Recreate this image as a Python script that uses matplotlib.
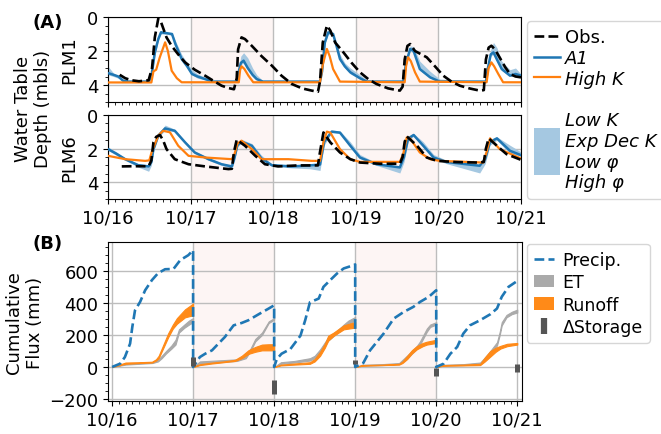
import matplotlib
matplotlib.use("Agg")
import matplotlib.pyplot as plt
from matplotlib.lines import Line2D
from matplotlib.patches import Patch, Rectangle
from matplotlib.legend_handler import HandlerPatch
from matplotlib.ticker import MultipleLocator, FixedLocator

# ---------------- data (x in months since 10/2016) ----------------
year_ticks = [0, 12, 24, 36, 48, 60]
year_labels = ["10/16", "10/17", "10/18", "10/19", "10/20", "10/21"]
shaded_years = [(12, 24), (36, 48)]

# PLM1 water-table depth
plm1_obs_x = [1.7, 2.5, 3.4, 4.5, 5.9, 6.4, 6.8, 7.3, 7.7, 8.5, 9.25, 10.2, 11.2, 12.6, 14.1, 15.3, 16.5, 17.5, 18.3, 18.7,
              18.9, 19.4, 19.9, 20.9, 22.3, 23.8, 25.2, 26.7, 28.2, 29.6, 30.5, 30.8, 31.2, 31.8, 32.3, 33.0, 34.2, 35.4,
              36.6, 37.8, 39.0, 40.7, 42.4, 42.8, 43.1, 43.5, 43.9, 44.6, 46.3, 47.5, 48.7, 49.9, 51.1, 52.5, 54.0, 54.6,
              54.9, 55.3, 55.7, 56.2, 57.0, 57.7, 58.4, 59.2, 60.0]
plm1_obs_y = [3.4, 3.6, 3.72, 3.78, 3.72, 3.0, 1.2, 0.1, 0.3, 1.2, 1.7, 2.2, 2.67, 3.1, 3.45, 3.75, 4.04, 4.18, 4.25, 3.6,
              1.9, 1.2, 1.3, 1.7, 2.3, 2.86, 3.45, 3.94, 4.2, 4.33, 4.4, 3.8, 1.5, 0.5, 0.8, 1.5, 2.08, 2.7,
              3.25, 3.65, 3.94, 4.2, 4.33, 4.1, 2.5, 1.7, 1.59, 2.0, 2.37, 2.9, 3.45, 3.8, 4.04, 4.2, 4.33, 4.3,
              2.5, 1.8, 1.69, 1.9, 2.45, 2.95, 3.35, 3.5, 3.55]

plm1_a1_x = [0, 0.8, 1.5, 2.2, 3.0, 5.9, 6.3, 6.8, 7.3, 7.7, 8.5, 9.3, 9.8, 10.7, 11.5, 12.2, 13.0, 14.1, 15.3, 18.7,
             19.0, 19.3, 19.7, 20.3, 21.0, 21.6, 22.5, 30.8, 31.1, 31.5, 32.0, 32.7, 33.2, 33.7, 34.4, 35.2, 36.6,
             37.6, 42.9, 43.3, 43.9, 44.4, 45.3, 46.8, 48.2, 54.9, 55.2, 55.6, 56.0, 56.5, 57.2, 58.4, 59.2, 60]
plm1_a1_y = [3.3, 3.4, 3.5, 3.75, 3.8, 3.8, 3.5, 2.1, 1.3, 0.9, 0.95, 1.0, 1.6, 2.47, 2.9, 3.35, 3.5, 3.65, 3.8, 3.8,
             3.2, 2.7, 2.57, 3.0, 3.4, 3.65, 3.8, 3.8, 3.2, 1.5, 0.9, 1.0, 1.7, 2.47, 2.9, 3.25, 3.6,
             3.8, 3.8, 2.7, 1.88, 2.0, 3.06, 3.55, 3.8, 3.8, 3.0, 2.2, 2.08, 2.5, 3.06, 3.45, 3.35, 3.45]
plm1_ens_min = [2.9, 3.3, 3.45, 3.7, 3.8, 3.8, 3.4, 2.0, 1.2, 0.85, 0.9, 0.95, 1.4, 2.2, 2.7, 3.1, 3.35, 3.55, 3.75, 3.8,
                3.0, 2.3, 2.1, 2.4, 3.0, 3.4, 3.75, 3.8, 3.1, 1.4, 0.85, 0.95, 1.6, 2.2, 2.7, 3.0, 3.4,
                3.7, 3.8, 2.6, 1.7, 1.75, 2.6, 3.2, 3.65, 3.8, 2.9, 1.9, 1.5, 1.8, 2.6, 3.1, 3.0, 3.35]
plm1_ens_max = [3.4, 3.5, 3.6, 3.8, 3.82, 3.82, 3.6, 2.3, 1.4, 1.0, 1.0, 1.1, 1.7, 2.55, 3.0, 3.4, 3.6, 3.7, 3.82, 3.82,
                3.3, 2.8, 2.7, 3.1, 3.5, 3.7, 3.82, 3.82, 3.3, 1.6, 1.0, 1.1, 1.8, 2.55, 3.0, 3.35, 3.65,
                3.82, 3.82, 2.8, 2.0, 2.1, 3.15, 3.6, 3.82, 3.82, 3.1, 2.3, 2.2, 2.6, 3.15, 3.5, 3.45, 3.5]

plm1_hk_x = [0, 6.3, 6.6, 7.0, 7.5, 8.3, 8.7, 9.25, 10.0, 10.7, 19.0, 19.2, 19.4, 19.8, 20.4, 21.1, 30.8, 31.2, 31.8,
             32.2, 32.7, 33.7, 43.1, 43.3, 43.6, 44.0, 44.6, 45.3, 55.0, 55.3, 55.7, 56.1, 56.7, 57.4, 60]
plm1_hk_y = [3.85, 3.85, 3.2, 3.1, 2.4, 1.49, 2.0, 3.16, 3.6, 3.84, 3.84, 3.1, 2.9, 3.05, 3.45, 3.84, 3.84, 2.8, 1.88,
             2.3, 3.06, 3.8, 3.84, 2.9, 2.37, 2.6, 3.25, 3.8, 3.84, 3.0, 2.67, 2.9, 3.35, 3.84, 3.84]

# PLM6 water-table depth
plm6_obs_x = [2.0, 3.5, 5.9, 6.3, 6.6, 7.0, 7.55, 8.0, 8.5, 9.7, 11.7, 14.1, 17.5, 18.0, 18.3, 18.7, 19.9, 21.4, 22.8,
              24.7, 27.6, 29.5, 30.5, 30.8, 31.3, 32.3, 33.7, 35.2, 36.6, 39.5, 42.4, 42.8, 43.1, 43.4, 44.9, 46.3,
              47.8, 50.5, 53.6, 54.6, 54.9, 55.3, 56.5, 57.9, 60]
plm6_obs_y = [3.06, 3.05, 3.05, 2.7, 1.63, 1.3, 1.19, 1.5, 2.03, 2.63, 2.93, 3.06, 3.22, 3.2, 2.2, 1.47, 1.83, 2.43, 2.93,
              3.06, 3.0, 3.0, 3.0, 2.2, 1.04, 1.63, 2.23, 2.63, 2.83, 2.9, 2.9, 2.5, 1.6, 1.27, 1.83, 2.53,
              2.73, 2.8, 2.83, 2.8, 2.0, 1.39, 1.83, 2.33, 2.67]

plm6_a1_x = [0, 1.2, 2.5, 4.4, 5.9, 6.3, 6.6, 7.3, 8.3, 9.7, 11.2, 12.6, 14.6, 16.5, 18.0, 18.4, 18.8, 19.4, 20.9, 22.3,
             23.8, 26.7, 29.3, 30.8, 31.4, 32.5, 33.7, 35.2, 36.6, 39.0, 42.4, 43.0, 43.6, 44.4, 45.8, 47.3, 49.2,
             54.0, 54.8, 55.5, 56.5, 58.4, 60]
plm6_a1_y = [2.03, 2.3, 2.63, 2.99, 3.06, 2.8, 2.03, 1.23, 0.8, 0.94, 1.63, 2.23, 2.63, 2.93, 3.06, 2.5, 1.8, 1.59, 1.83,
             2.59, 2.99, 3.06, 3.0, 2.95, 1.6, 0.99, 1.05, 1.83, 2.53, 2.93, 3.12, 2.5, 1.4, 1.19, 1.83, 2.53, 2.8,
             3.02, 2.6, 1.6, 1.39, 2.13, 2.39]
plm6_ens_min = [1.9, 2.2, 2.55, 2.9, 3.0, 2.6, 1.9, 1.1, 0.6, 0.85, 1.55, 2.15, 2.55, 2.85, 3.0, 2.3, 1.6, 1.45, 1.7, 2.4,
                2.9, 3.0, 2.95, 2.9, 1.4, 0.9, 0.95, 1.6, 2.35, 2.85, 3.05, 2.3, 1.3, 1.1, 1.6, 2.35, 2.7,
                2.95, 2.4, 1.5, 1.3, 1.8, 2.2]
plm6_ens_max = [2.1, 2.4, 2.7, 3.1, 3.35, 3.0, 2.2, 1.35, 0.9, 1.0, 1.7, 2.3, 2.7, 3.0, 3.2, 2.7, 1.9, 1.65, 1.9, 2.65,
                3.05, 3.15, 3.2, 3.3, 1.8, 1.05, 1.1, 1.9, 2.6, 3.0, 3.45, 2.8, 1.6, 1.25, 1.9, 2.6, 2.9,
                3.45, 2.9, 1.8, 1.5, 2.3, 2.45]

plm6_hk_x = [0, 2.5, 5.4, 6.0, 6.35, 7.3, 8.0, 9.0, 10.2, 11.7, 14.1, 18.0, 18.4, 18.8, 19.4, 20.9, 22.3, 26.2, 29.6,
             30.8, 31.3, 31.8, 32.3, 33.7, 35.2, 36.6, 42.4, 42.9, 43.4, 43.9, 45.3, 46.8, 48.2, 54.5, 55.0, 55.5,
             56.9, 60]
plm6_hk_y = [2.43, 2.63, 2.73, 2.7, 2.2, 1.23, 0.94, 1.03, 1.83, 2.43, 2.53, 2.63, 2.3, 1.7, 1.53, 2.03, 2.63, 2.63, 2.73,
             2.73, 1.6, 0.99, 1.05, 2.03, 2.63, 2.79, 2.79, 2.3, 1.33, 1.4, 2.23, 2.63, 2.73, 2.83, 2.2, 1.39,
             2.03, 2.59]

# Cumulative precipitation (resets each water year)
precip_x = [0, 1.2, 1.9, 2.67, 3.0, 3.4, 4.15, 4.9, 5.9, 6.8, 7.85, 9.1, 10.1, 11.3, 12,
            12, 13.0, 13.8, 14.8, 15.75, 16.7, 18.0, 19.2, 20.2, 21.7, 23.2, 24,
            24, 24.4, 25.1, 26.4, 27.9, 28.6, 29.3, 30.6, 31.3, 32.3, 33.3, 34.3, 35.75, 36,
            36, 37.2, 38.2, 39.2, 40.2, 41.7, 43.2, 44.6, 45.6, 46.9, 48,
            48, 49.1, 50.1, 51.1, 52.0, 53.0, 54.5, 56.0, 57.0, 57.7, 58.7, 60]
precip_y = [0, 21, 62, 146, 250, 354, 406, 479, 542, 585, 610, 612, 667, 698, 729,
            0, 62, 83, 104, 146, 187, 260, 275, 292, 329, 365, 385,
            0, 50, 83, 112, 196, 292, 404, 427, 500, 542, 583, 615, 635, 640,
            0, 25, 104, 156, 208, 302, 344, 375, 406, 438, 479,
            0, 21, 83, 125, 208, 260, 292, 329, 365, 438, 500, 537]

# Runoff ensemble range per water year
runoff_x = [[0, 2, 4, 5.9, 6.5, 6.9, 7.6, 8.3, 9.0, 9.6, 10.8, 12],
            [12, 13, 14.8, 16.5, 18.2, 19.2, 20.2, 21.2, 22.2, 23.2, 24],
            [24, 25, 27, 29.3, 30.0, 30.8, 31.5, 32.0, 32.8, 34.3, 36],
            [36, 37, 40, 42.5, 43.0, 43.7, 44.4, 45.1, 46.0, 46.6, 48],
            [48, 49, 52, 54.5, 55.2, 56.0, 56.8, 57.5, 58.5, 60]]
runoff_lo = [[0, 20, 25, 28, 40, 55, 120, 185, 240, 270, 310, 323],
             [0, 12, 22, 30, 38, 55, 82, 95, 104, 104, 104],
             [0, 10, 15, 20, 35, 70, 120, 165, 195, 235, 246],
             [0, 8, 12, 15, 25, 50, 85, 110, 130, 140, 150],
             [0, 8, 10, 12, 35, 65, 95, 115, 130, 140]]
runoff_hi = [[0, 28, 30, 33, 48, 70, 140, 210, 265, 305, 360, 396],
             [0, 18, 28, 35, 45, 70, 105, 125, 140, 142, 142],
             [0, 15, 22, 30, 50, 95, 145, 195, 215, 260, 281],
             [0, 12, 15, 20, 35, 70, 105, 130, 150, 158, 170],
             [0, 12, 15, 20, 60, 100, 120, 132, 145, 150]]

# ET ensemble range per water year
et_x = [[0, 2, 4, 6.0, 6.8, 7.35, 8.0, 8.8, 9.4, 9.9, 10.7, 11.4, 12],
        [12, 13, 16, 18.5, 19.8, 20.5, 21.2, 22.2, 23.2, 24],
        [24, 25, 27, 29.3, 30.0, 30.8, 32.0, 33.0, 34.3, 35.0, 36],
        [36, 37, 40, 42.5, 43.7, 45.1, 45.6, 46.1, 46.6, 47.1, 48],
        [48, 49, 52, 54.5, 55.2, 56.0, 57.0, 57.4, 57.7, 58.4, 59.2, 60]]
et_lo = [[0, 15, 20, 25, 35, 55, 85, 115, 140, 215, 245, 265, 280],
         [0, 25, 30, 38, 55, 100, 160, 200, 275, 295],
         [0, 20, 28, 40, 55, 90, 165, 200, 245, 270, 290],
         [0, 8, 12, 18, 55, 112, 140, 180, 220, 250, 265],
         [0, 8, 12, 18, 45, 80, 135, 200, 260, 310, 330, 340]]
et_hi = [[0, 20, 25, 30, 45, 70, 100, 135, 170, 235, 265, 290, 305],
         [0, 35, 42, 48, 68, 115, 175, 215, 285, 305],
         [0, 30, 38, 55, 70, 110, 185, 215, 265, 290, 312],
         [0, 14, 18, 25, 72, 130, 160, 200, 240, 265, 280],
         [0, 14, 18, 28, 60, 100, 155, 220, 280, 325, 345, 358]]

# Change in storage range at each water-year end
dstor_x = [12, 24, 36, 48, 60]
dstor_lo = [5, -167, 17, -58, -31]
dstor_hi = [60, -83, 42, -4, 20]

# ---------------- styling ----------------
BLUE = "#1f77b4"
ORANGE = "#ff7f0e"
BAND = "#a5c8e1"
SHADE = "#fdf5f4"
GRID = "#bdbdbd"
FS = 13

plt.rcParams["font.size"] = FS
fig = plt.figure(figsize=(6.61, 4.35), dpi=100)

W = 661.0
H = 435.0
def ax_rect(l, t, r, b):
    return [l / W, 1 - b / H, (r - l) / W, (b - t) / H]

ax1 = fig.add_axes(ax_rect(108, 18, 521, 103))
ax2 = fig.add_axes(ax_rect(108, 116, 521, 200))
ax3 = fig.add_axes(ax_rect(108, 243, 522, 402))

def style_axis(ax, xlim):
    ax.set_xlim(*xlim)
    ax.xaxis.set_major_locator(FixedLocator(year_ticks))
    ax.xaxis.set_minor_locator(MultipleLocator(1))
    ax.set_xticklabels(year_labels)
    for a, b in shaded_years:
        ax.axvspan(a, b, color=SHADE, zorder=0, lw=0)
    ax.grid(True, which="major", color=GRID, lw=1.0, zorder=0.5)
    ax.set_axisbelow(True)

for ax, ox, oy, ax_x, ay, emin, emax, hx, hy, lab in [
        (ax1, plm1_obs_x, plm1_obs_y, plm1_a1_x, plm1_a1_y, plm1_ens_min, plm1_ens_max, plm1_hk_x, plm1_hk_y, "PLM1"),
        (ax2, plm6_obs_x, plm6_obs_y, plm6_a1_x, plm6_a1_y, plm6_ens_min, plm6_ens_max, plm6_hk_x, plm6_hk_y, "PLM6")]:
    style_axis(ax, (0, 60))
    ax.fill_between(ax_x, emin, emax, color=BAND, lw=0, zorder=2)
    ax.plot(ax_x, ay, color=BLUE, lw=1.8, zorder=3)
    ax.plot(hx, hy, color=ORANGE, lw=1.6, zorder=4)
    ax.plot(ox, oy, color="k", ls="--", lw=1.9, zorder=5)
    ax.set_ylim(5, 0)
    ax.yaxis.set_major_locator(FixedLocator([0, 2, 4]))
    ax.yaxis.set_minor_locator(MultipleLocator(0.5))
    ax.set_ylabel(lab, labelpad=6)

ax1.tick_params(axis="x", which="both", labelbottom=False)

# Panel B
style_axis(ax3, (-0.6, 60.7))
for xs, lo, hi in zip(et_x, et_lo, et_hi):
    ax3.fill_between(xs, lo, hi, color="#aaaaaa", lw=0.8, edgecolor="#aaaaaa", zorder=2)
for xs, lo, hi in zip(runoff_x, runoff_lo, runoff_hi):
    ax3.fill_between(xs, lo, hi, color="#ff8a18", lw=0.8, edgecolor="#ff8a18", zorder=3)
ax3.plot(precip_x, precip_y, color=BLUE, ls="--", lw=1.9, zorder=4)
ax3.vlines(dstor_x, dstor_lo, dstor_hi, color="#555555", lw=3.6, zorder=5)
ax3.set_ylim(-212, 780)
ax3.yaxis.set_major_locator(FixedLocator([-200, 0, 200, 400, 600]))
ax3.yaxis.set_minor_locator(MultipleLocator(50))
ax3.set_ylabel("Cumulative\nFlux (mm)", labelpad=4)

fig.text(33 / W, 1 - 28 / H, "(A)", fontweight="bold", fontsize=FS)
fig.text(32 / W, 1 - 249 / H, "(B)", fontweight="bold", fontsize=FS)
fig.text(33 / W, 1 - 109 / H, "Water Table\nDepth (mbls)", rotation=90, ha="center", va="center",
         fontsize=FS, linespacing=1.15)

# Legend A
def tall_patch(legend, orig_handle, xdescent, ydescent, width, height, fontsize):
    hh = 2.6 * fontsize
    return Rectangle((-xdescent, -ydescent + height / 2 - hh / 2), width, hh)

hA = [Line2D([], [], color="k", ls="--", lw=1.9),
      Line2D([], [], color=BLUE, lw=1.8),
      Line2D([], [], color=ORANGE, lw=1.6),
      Line2D([], [], alpha=0),
      Patch(facecolor=BAND, edgecolor="none")]
lA = ["Obs.", "A1", "High K", " ", "Low K\nExp Dec K\nLow φ\nHigh φ"]
legA = fig.legend(hA, lA, loc="upper left", bbox_to_anchor=(527 / W, 1 - 22 / H), borderaxespad=0,
                  handlelength=1.4, handletextpad=0.3, labelspacing=0.15, fontsize=FS,
                  handler_map={Patch: HandlerPatch(patch_func=tall_patch)})
for t in legA.get_texts()[1:]:
    t.set_fontstyle("italic")

# Legend B
hB = [Line2D([], [], color=BLUE, ls="--", lw=1.9),
      Patch(facecolor="#aaaaaa", edgecolor="none"),
      Patch(facecolor="#ff8a18", edgecolor="none"),
      Line2D([], [], color="#555555", ls="none", marker="|", ms=12, mew=4.5)]
lB = ["Precip.", "ET", "Runoff", "ΔStorage"]
fig.legend(hB, lB, loc="upper left", bbox_to_anchor=(527 / W, 1 - 245 / H), borderaxespad=0,
           handlelength=1.15, handletextpad=0.5, labelspacing=0.25, fontsize=12.5)

fig.savefig("out.png", dpi=100)
